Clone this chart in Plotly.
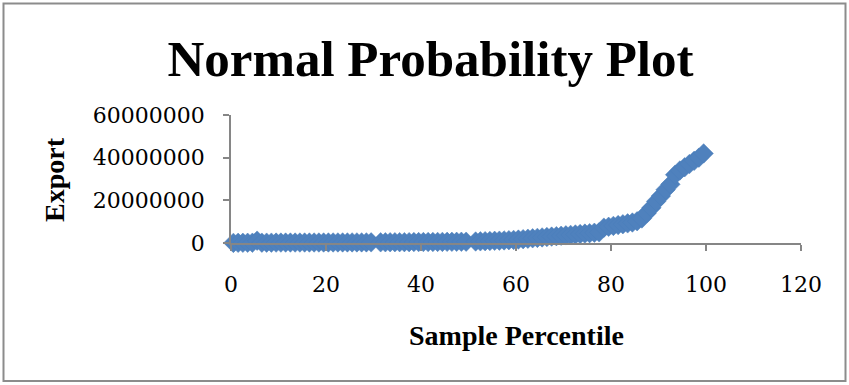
import plotly.graph_objects as go

# Sample percentiles (x) and Export values (y)
sample_percentile = [
    0.5, 1.5, 2.5, 3.5, 4.5, 5.5, 6.5, 7.5, 8.5, 9.5,
    10.5, 11.5, 12.5, 13.5, 14.5, 15.5, 16.5, 17.5, 18.5, 19.5,
    20.5, 21.5, 22.5, 23.5, 24.5, 25.5, 26.5, 27.5, 28.5, 29.5,
    31.5, 32.5, 33.5, 34.5, 35.5, 36.5, 37.5, 38.5, 39.5, 40.5,
    41.5, 42.5, 43.5, 44.5, 45.5, 46.5, 47.5, 48.5, 49.5,
    51.5, 52.5, 53.5, 54.5, 55.5, 56.5, 57.5, 58.5, 59.5,
    60.5, 61.5, 62.5, 63.5, 64.5, 65.5, 66.5, 67.5, 68.5, 69.5,
    70.5, 71.5, 72.5, 73.5, 74.5, 75.5, 76.5, 77.5,
    78.5, 79.5, 80.5, 81.5, 82.5, 83.5, 84.5, 85.5,
    86.5, 87.5, 88.5, 89.5, 90.5, 91.5, 92.5,
    93.5, 94.5, 95.5, 96.5, 97.5, 98.5, 99.5,
]
export = [
    50000, 80000, 100000, 120000, 140000, 1100000,
    150000, 160000, 170000, 180000, 190000, 200000, 205000, 210000,
    215000, 220000, 225000, 230000, 235000, 240000, 245000, 250000,
    255000, 260000, 265000, 270000, 275000, 280000, 290000, 300000,
    320000, 335000, 350000, 365000, 380000, 395000, 410000, 425000,
    440000, 455000, 470000, 485000, 500000, 515000, 530000, 545000,
    560000, 580000, 600000,
    700000, 780000, 860000, 940000, 1020000, 1100000, 1200000, 1320000, 1450000,
    1600000, 1800000, 2000000, 2200000, 2400000, 2600000, 2800000, 3000000, 3200000, 3400000,
    3600000, 3800000, 4000000, 4200000, 4400000, 4600000, 4800000, 5000000,
    7200000, 7600000, 8000000, 8400000, 8800000, 9200000, 9600000, 10200000,
    11500000, 14000000, 16500000, 19500000, 22000000, 25000000, 27500000,
    32000000, 34000000, 35500000, 37000000, 38500000, 40000000, 42000000,
]

x_ticks = [0, 20, 40, 60, 80, 100, 120]
y_ticks = [0, 20000000, 40000000, 60000000]

title_text = "Normal Probability Plot"
x_title = "Sample Percentile"
y_title = "Export"

W, H = 849, 385
L, R, T, B = 231, 48, 115, 142
pw, ph = W - L - R, H - T - B

def px_x(p):
    return (p - L) / pw

def px_y(p):
    return (H - B - p) / ph

axis_color = "#868686"
tick_font = dict(family="DejaVu Serif", size=22, color="#000000")

fig = go.Figure()
fig.add_trace(go.Scatter(
    x=sample_percentile, y=export, mode="markers",
    marker=dict(symbol="diamond", size=15, color="#4F81BD",
                line=dict(color="#4A7EBB", width=0.5)),
    cliponaxis=False, showlegend=False,
))

fig.update_layout(
    width=W, height=H,
    margin=dict(l=L, r=R, t=T, b=B, pad=0),
    paper_bgcolor="white", plot_bgcolor="white",
    title=dict(text=title_text, x=430.5 / W, xanchor="center",
               y=1 - 58 / H, yanchor="middle", yref="container",
               font=dict(family="Liberation Serif", size=51, color="#000000")),
    xaxis=dict(range=[0, 120], tickvals=x_ticks, showgrid=False, zeroline=False,
               showline=True, linecolor=axis_color, linewidth=1.5,
               ticks="outside", ticklen=6, tickcolor=axis_color, tickwidth=1.5,
               tickfont=tick_font, ticklabelstandoff=15),
    yaxis=dict(range=[0, 60000000], tickvals=y_ticks, tickformat="d",
               showgrid=False, zeroline=False,
               showline=True, linecolor=axis_color, linewidth=1.5,
               ticks="outside", ticklen=6, tickcolor=axis_color, tickwidth=1.5,
               tickfont=tick_font, ticklabelstandoff=14),
    annotations=[
        dict(text="<b>" + x_title + "</b>", x=px_x(516.5), y=px_y(335),
             xref="paper", yref="paper", xanchor="center", yanchor="middle",
             showarrow=False,
             font=dict(family="Liberation Serif", size=28, color="#000000")),
        dict(text="<b>" + y_title + "</b>", x=px_x(54), y=px_y(180),
             xref="paper", yref="paper", xanchor="center", yanchor="middle",
             textangle=-90, showarrow=False,
             font=dict(family="Liberation Serif", size=28, color="#000000")),
    ],
    shapes=[dict(type="rect", xref="paper", yref="paper",
                 x0=px_x(3.5), x1=px_x(845.5), y0=px_y(381), y1=px_y(3.5),
                 line=dict(color="#8C8C8C", width=2), fillcolor="rgba(0,0,0,0)",
                 layer="below")],
)
fig.update_layout(title_font_weight="bold")

fig.write_html("out.html")
